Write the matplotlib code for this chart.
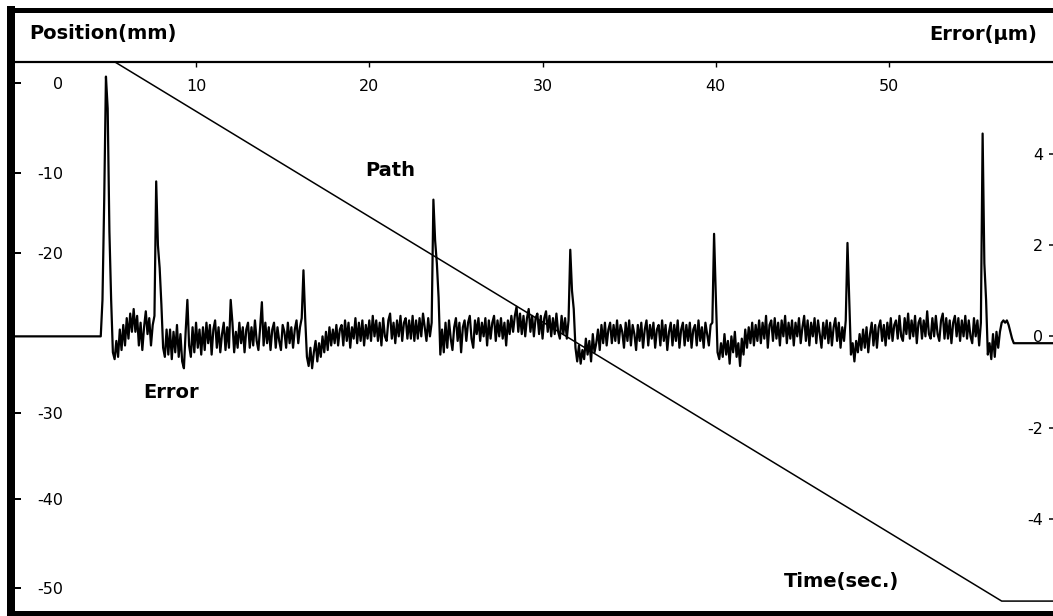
import numpy as np
import matplotlib
matplotlib.use("Agg")
import matplotlib.pyplot as plt

W, H = 1053, 616

# ---------------- data ----------------
# commanded path (position in mm vs time in s)
path_time = [5.32, 56.5, 60.5]
path_pos = [2.08, -51.3, -51.3]

# tracking error (um): flat before start, sampled every 0.1 s from 4.4 s, flat after stop
err_lead_time = -0.7
err_lead_value = 0.0
err_sample_start = 4.4
err_sample_step = 0.1
error_um = [
    0.0, 0.0, 0.8, 3.0, 5.7, 5.0, 2.3, 0.8, -0.35, -0.5,
    -0.1, -0.45, 0.15, -0.3, 0.25, -0.2, 0.4, -0.05, 0.5, 0.1,
    0.6, 0.1, 0.45, -0.2, 0.3, -0.3, 0.2, 0.55, 0.05, 0.4,
    -0.2, 0.25, 0.45, 3.4, 2.0, 1.5, 0.7, -0.25, -0.45, 0.15,
    -0.4, 0.15, -0.5, 0.1, -0.35, 0.25, -0.45, 0.05, -0.55, -0.7,
    0.1, 0.8, -0.2, -0.45, 0.2, -0.35, 0.3, -0.25, 0.15, -0.4,
    0.2, -0.3, 0.3, -0.15, 0.25, -0.4, 0.15, 0.35, -0.25, 0.2,
    -0.35, 0.05, 0.3, -0.3, 0.2, -0.25, 0.8, 0.3, -0.35, 0.1,
    -0.25, 0.3, -0.15, 0.2, -0.35, 0.15, 0.3, -0.25, 0.2, -0.2,
    0.35, -0.1, -0.3, 0.2, 0.75, -0.2, 0.3, -0.15, 0.2, -0.3,
    0.15, 0.3, -0.25, 0.2, -0.1, -0.3, 0.25, 0.1, -0.25, 0.3,
    -0.15, 0.2, -0.25, 0.15, 0.35, -0.15, 0.2, 0.4, 1.45, 0.4,
    -0.45, -0.65, -0.25, -0.7, -0.35, -0.1, -0.55, -0.15, -0.45, 0.0,
    -0.35, 0.1, -0.3, 0.2, -0.2, 0.15, -0.15, 0.25, -0.2, 0.15,
    0.25, -0.2, 0.35, -0.1, 0.3, -0.25, 0.2, -0.05, 0.4, -0.15,
    0.3, -0.1, 0.35, -0.2, 0.25, -0.05, 0.35, -0.1, 0.45, 0.0,
    0.35, -0.1, 0.3, -0.2, 0.4, 0.0, -0.1, 0.35, 0.5, -0.05,
    0.3, -0.15, 0.35, 0.0, 0.45, -0.1, 0.3, 0.4, -0.05, 0.35,
    -0.05, 0.45, -0.1, 0.35, -0.05, 0.4, 0.0, 0.5, 0.2, -0.1,
    0.4, 0.0, 0.3, 3.0, 2.1, 1.6, 0.85, -0.4, 0.15, -0.35,
    0.3, -0.25, 0.35, -0.05, -0.3, 0.2, 0.4, -0.1, 0.3, -0.35,
    0.2, 0.35, -0.1, 0.3, 0.45, -0.05, -0.25, 0.35, 0.05, 0.4,
    -0.1, 0.3, 0.0, 0.4, -0.2, 0.35, -0.05, 0.3, 0.45, -0.1,
    0.35, 0.0, 0.4, -0.05, 0.3, -0.2, 0.35, 0.05, 0.45, 0.1,
    0.45, 0.65, 0.1, 0.5, 0.05, 0.45, 0.0, 0.4, 0.6, 0.1,
    0.45, 0.0, 0.4, 0.5, 0.05, 0.45, -0.05, 0.4, 0.55, 0.1,
    0.45, 0.0, 0.4, 0.05, 0.5, 0.1, -0.05, 0.45, 0.05, 0.4,
    -0.05, 0.35, 1.9, 1.0, 0.6, -0.25, -0.55, -0.2, -0.6, -0.3,
    -0.5, -0.05, -0.4, -0.1, -0.55, 0.05, -0.35, -0.15, 0.15, -0.3,
    0.25, -0.15, 0.3, -0.2, 0.15, 0.3, -0.15, 0.25, -0.1, 0.35,
    -0.15, 0.25, 0.1, -0.25, 0.3, -0.1, 0.35, -0.2, 0.25, 0.05,
    -0.3, 0.25, -0.1, 0.3, -0.25, 0.15, 0.35, -0.2, 0.25, -0.05,
    0.3, -0.25, 0.15, 0.25, -0.2, 0.35, -0.1, 0.25, -0.3, 0.1,
    0.3, -0.2, 0.25, -0.1, 0.35, -0.25, 0.15, 0.3, -0.2, 0.25,
    -0.1, 0.3, -0.25, 0.15, 0.25, -0.2, 0.35, -0.1, 0.2, -0.25,
    0.3, 0.05, -0.2, 0.25, 0.3, 2.25, 0.9, -0.35, -0.5, -0.15,
    -0.45, 0.05, -0.4, -0.1, -0.6, 0.0, -0.35, 0.1, -0.45, -0.15,
    -0.65, -0.05, -0.4, 0.15, -0.25, 0.2, -0.15, 0.3, -0.2, 0.25,
    -0.1, 0.35, -0.15, 0.3, -0.05, 0.45, -0.25, 0.25, 0.35, -0.1,
    0.4, -0.05, 0.3, -0.2, 0.35, 0.0, 0.45, -0.15, 0.3, -0.05,
    0.35, -0.2, 0.3, 0.0, 0.4, -0.15, 0.2, 0.45, -0.1, 0.35,
    -0.2, 0.3, 0.0, 0.4, -0.15, 0.35, 0.05, -0.25, 0.3, -0.05,
    0.35, -0.15, 0.3, -0.2, 0.2, 0.4, -0.1, 0.3, -0.25, 0.2,
    -0.1, 0.35, 2.05, 0.8, -0.4, -0.15, -0.55, -0.1, -0.35, 0.05,
    -0.3, 0.15, -0.25, 0.2, -0.35, 0.05, 0.3, -0.2, 0.25, -0.25,
    0.2, 0.35, -0.1, 0.25, -0.2, 0.3, -0.05, 0.4, -0.1, 0.25,
    0.35, -0.05, 0.45, 0.0, -0.1, 0.4, 0.05, 0.5, -0.05, 0.35,
    0.0, 0.45, -0.15, 0.3, 0.4, -0.05, 0.35, 0.0, 0.55, 0.05,
    -0.05, 0.4, 0.0, 0.45, 0.05, -0.1, 0.35, 0.5, -0.05, 0.4,
    -0.05, 0.35, -0.15, 0.3, 0.45, 0.0, 0.4, -0.1, 0.35, 0.0,
    0.45, -0.05, 0.35, 0.0, -0.15, 0.4, 0.0, 0.35, -0.2, 0.3,
    4.45, 1.6, 0.8, -0.4, -0.15, -0.5, 0.05, -0.45, 0.1, -0.25,
    0.1, 0.3, 0.35, 0.3, 0.35, 0.25, 0.1, -0.05, -0.15, -0.15, -0.15,
]
err_tail_time = 60.5
err_tail_value = -0.15

# axis ticks / labels
time_ticks = [10, 20, 30, 40, 50]
time_labels = ["10", "20", "30", "40", "50"]
pos_tick_at = [0, -8.93, -16.87, -32.64, -41.17, -50.0]
pos_labels = ["0", "-10", "-20", "-30", "-40", "-50"]
err_ticks = [4, 2, 0, -2, -4]
err_labels = ["4", "2", "0", "-2", "-4"]

# ---------------- figure ----------------
fig = plt.figure(figsize=(W / 100, H / 100), dpi=100)
fig.patch.set_facecolor("white")

def fx(px):
    return px / W

def fy(py):
    return 1 - py / H

PT = 72 / 100  # points per pixel

# main plot region
left_px, right_px, top_px, bot_px = 11, 1054, 62, 613
ax = fig.add_axes([fx(left_px), fy(bot_px), (right_px - left_px) / W, (bot_px - top_px) / H])
ax.set_facecolor("white")
ax.set_xlim(-0.68, 59.52)
ax.set_ylim(-52.48, 2.08)

ax.plot(path_time, path_pos, color="black", lw=1.1, zorder=3)

ax.spines["right"].set_visible(False)
ax.spines["left"].set_linewidth(8 * PT)
ax.spines["bottom"].set_linewidth(5 * PT)
ax.spines["top"].set_linewidth(2.2 * PT)

# error axis
ax2 = ax.twinx()
ax2.set_ylim(-6.07, 6.02)
t_grid = err_sample_start + err_sample_step * np.arange(len(error_um))
err_t = np.concatenate([[err_lead_time], t_grid, [err_tail_time]])
err_v = np.concatenate([[err_lead_value], error_um, [err_tail_value]])
ax2.plot(err_t, err_v, color="black", lw=1.6, zorder=4)
for s in ["right", "left", "top", "bottom"]:
    ax2.spines[s].set_visible(False)
ax2.set_yticks(err_ticks)
ax2.set_yticklabels(err_labels)
ax2.tick_params(axis="y", direction="in", length=5 * PT, width=1.5 * PT, pad=-11 * PT, labelsize=11.5)
for t in ax2.yaxis.get_major_ticks():
    t.label2.set_horizontalalignment("right")

# main axis ticks (after twinx so they are not reset)
ax.xaxis.set_ticks_position("top")
ax.set_xticks(time_ticks)
ax.set_xticklabels(time_labels)
ax.tick_params(axis="x", which="both", top=True, bottom=False, labeltop=True, labelbottom=False,
               direction="in", length=4 * PT + 1, width=1, pad=-17 * PT, labelsize=11.5)
for t in ax.xaxis.get_major_ticks():
    t.label2.set_verticalalignment("top")

ax.yaxis.set_ticks_position("left")
ax.set_yticks(pos_tick_at)
ax.set_yticklabels(pos_labels)
ax.tick_params(axis="y", which="both", left=True, right=False, direction="in",
               length=10 * PT, width=2 * PT, pad=-52 * PT, labelsize=11.5)

# header region
hax = fig.add_axes([fx(left_px), fy(top_px), (right_px - left_px) / W, (top_px - 9.5) / H])
hax.set_xticks([])
hax.set_yticks([])
hax.spines["right"].set_visible(False)
hax.spines["bottom"].set_visible(False)
hax.spines["left"].set_linewidth(8 * PT)
hax.spines["top"].set_linewidth(5 * PT)
hax.patch.set_alpha(0)

bold = dict(fontweight="bold", fontsize=14, family="DejaVu Sans", color="black")
fig.text(fx(29), fy(34), "Position(mm)", ha="left", va="center", **bold)
fig.text(fx(1037), fy(34), "Error(μm)", ha="right", va="center", **bold)
fig.text(fx(390), fy(170), "Path", ha="center", va="center", **bold)
fig.text(fx(171), fy(392), "Error", ha="center", va="center", **bold)
fig.text(fx(842), fy(582), "Time(sec.)", ha="center", va="center", **bold)

fig.savefig("out.png", dpi=100, facecolor="white")
